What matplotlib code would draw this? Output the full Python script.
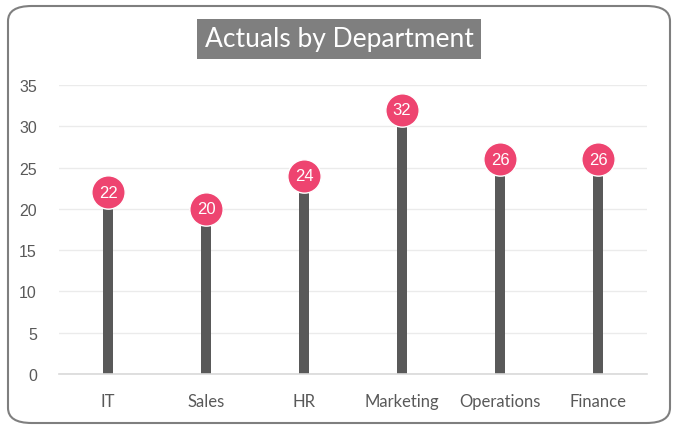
import numpy as np
import matplotlib.pyplot as plt
from matplotlib.patches import FancyBboxPatch

plt.rcParams['font.family'] = ['Liberation Sans', 'DejaVu Sans']

depts = ['IT', 'Sales', 'HR', 'Marketing', 'Operations', 'Finance']
actuals = [22, 20, 24, 32, 26, 26]
yticks = [0, 5, 10, 15, 20, 25, 30, 35]

fig = plt.figure(figsize=(6.78, 4.31), dpi=100)

# rounded outer frame
frame = FancyBboxPatch((8 / 678, 7 / 431), 662 / 678, 417 / 431,
                       boxstyle='round,pad=0,rounding_size=0.035',
                       transform=fig.transFigure, facecolor='white',
                       edgecolor='#7f7f7f', linewidth=1.5, zorder=-5)
fig.patches.append(frame)

ax = fig.add_axes([59 / 678, 1 - 375 / 431, 588 / 678, 289 / 431], zorder=2)
ax.set_facecolor('none')
x = np.arange(len(depts))
ax.bar(x, actuals, width=0.1, color='#595959', zorder=2)
ax.plot(x, actuals, 'o', markersize=24, color='#EE4470', markeredgecolor='white',
        markeredgewidth=1.0, zorder=3)
for xi, v in zip(x, actuals):
    ax.text(xi, v, str(v), ha='center', va='center', color='white', fontsize=12, zorder=4)

ax.set_xlim(-0.5, len(depts) - 0.5)
ax.set_ylim(0, 35)
ax.set_yticks(yticks)
ax.set_xticks(x)
ax.set_xticklabels(depts, family=['Lato', 'DejaVu Sans'], fontsize=12)
ax.tick_params(axis='both', length=0, colors='#595959')
ax.tick_params(axis='y', labelsize=11.5, pad=16)
ax.tick_params(axis='x', pad=14)
ax.grid(axis='y', color='#EBEBEB', linewidth=1, zorder=0)
for s in ['top', 'right', 'left']:
    ax.spines[s].set_visible(False)
ax.spines['bottom'].set_color('#D9D9D9')
ax.spines['bottom'].set_linewidth(1.2)

fig.text(339 / 678, 1 - 40 / 431, 'Actuals by Department', ha='center', va='center',
         color='white', fontsize=19, family=['Lato', 'DejaVu Sans'],
         bbox=dict(boxstyle='square,pad=0.3', facecolor='#7f7f7f', edgecolor='none'))

plt.savefig('out.png', dpi=100)
